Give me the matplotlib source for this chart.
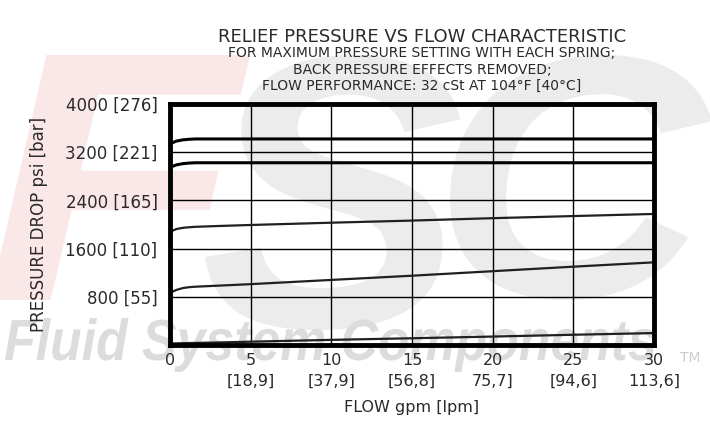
import matplotlib
matplotlib.use("Agg")
import matplotlib.pyplot as plt
from matplotlib.textpath import TextPath
from matplotlib.patches import PathPatch
from matplotlib.font_manager import FontProperties
from matplotlib.transforms import Affine2D

# flow (gpm) sample points and pressure drop (psi) per spring
flow = [0, 0.4, 0.8, 1.2, 1.6, 3, 5, 10, 15, 20, 25, 30]
spring_a = [3340, 3385, 3405, 3415, 3420, 3420, 3420, 3420, 3420, 3420, 3420, 3420]
spring_b = [2950, 2990, 3010, 3020, 3025, 3025, 3025, 3025, 3025, 3025, 3025, 3025]
spring_c = [1880, 1925, 1945, 1955, 1962, 1975, 1992, 2030, 2065, 2105, 2140, 2175]
spring_d = [865, 915, 945, 960, 968, 985, 1010, 1080, 1150, 1225, 1300, 1372]
spring_e = [25, 27, 30, 32, 35, 42, 55, 85, 112, 140, 170, 198]

x_ticks = [0, 5, 10, 15, 20, 25, 30]
x_labels = ["0", "5\n[18,9]", "10\n[37,9]", "15\n[56,8]", "20\n75,7]",
            "25\n[94,6]", "30\n113,6]"]
y_ticks = [800, 1600, 2400, 3200, 4000]
y_labels = ["800 [55]", "1600 [110]", "2400 [165]", "3200 [221]", "4000 [276]"]

title_lines = [
    "RELIEF PRESSURE VS FLOW CHARACTERISTIC",
    "FOR MAXIMUM PRESSURE SETTING WITH EACH SPRING;",
    "BACK PRESSURE EFFECTS REMOVED;",
    "FLOW PERFORMANCE: 32 cSt AT 104°F [40°C]",
]

plt.rcParams["font.family"] = ["DejaVu Sans"]
TXT = "#2a2a2a"

W, H = 710, 444
fig = plt.figure(figsize=(W / 100, H / 100), dpi=100)
fig.patch.set_facecolor("white")

wm_prop = FontProperties(family="Liberation Sans", weight="bold", style="italic")


def put_text_path(s, x0, x1, top, bottom, color):
    # stretch a text outline into a pixel box (y measured from the top)
    tp = TextPath((0, 0), s, size=1, prop=wm_prop)
    e = tp.get_extents()
    sx = (x1 - x0) / e.width
    sy = (bottom - top) / e.height
    tr = (Affine2D().translate(-e.x0, -e.y0).scale(sx, sy)
          .translate(x0, H - bottom).scale(1 / W, 1 / H) + fig.transFigure)
    fig.add_artist(PathPatch(tp, transform=tr, facecolor=color,
                             edgecolor="none", zorder=-6))


# faint company logo + name behind the chart
put_text_path("F", -10, 250, 55, 300, "#fae8e8")
put_text_path("S", 205, 460, 55, 330, "#ececec")
put_text_path("C", 450, 712, 55, 300, "#ececec")
put_text_path("Fluid System Components", 5, 655, 318, 372, "#dcdcdc")
fig.text(680 / W, 1 - 358 / H, "TM", fontsize=10, color="#cccccc",
         ha="left", va="center", zorder=-5)

ax = fig.add_axes([170 / W, 1 - 345 / H, 484 / W, 241 / H])
ax.set_facecolor("none")

ax.plot(flow, spring_a, color="black", lw=2.2, solid_capstyle="butt")
ax.plot(flow, spring_b, color="black", lw=2.2, solid_capstyle="butt")
ax.plot(flow, spring_c, color="#202020", lw=1.6)
ax.plot(flow, spring_d, color="#202020", lw=1.6)
ax.plot(flow, spring_e, color="#202020", lw=1.6)

ax.set_xlim(0, 30)
ax.set_ylim(0, 4000)
ax.set_xticks(x_ticks)
ax.set_xticklabels(x_labels, fontsize=11.5, color=TXT, linespacing=1.45,
                   va="top")
ax.set_yticks(y_ticks)
ax.set_yticklabels(y_labels, fontsize=12, color=TXT)
ax.tick_params(axis="x", length=0, pad=6)
ax.tick_params(axis="y", length=0, pad=9)
ax.grid(True, color="black", lw=1.0)
for s in ax.spines.values():
    s.set_linewidth(3.5)
    s.set_color("black")

ax.set_xlabel("FLOW gpm [lpm]", fontsize=11.5, color=TXT, labelpad=8)
ax.set_ylabel("PRESSURE DROP psi [bar]", fontsize=12, color=TXT, labelpad=12)

ys = [37, 53, 70, 86]
sizes = [13, 10, 10, 10]
for t, y, s in zip(title_lines, ys, sizes):
    fig.text(422 / W, 1 - y / H, t, fontsize=s, color=TXT,
             ha="center", va="center")

fig.savefig("out.png", dpi=100)
